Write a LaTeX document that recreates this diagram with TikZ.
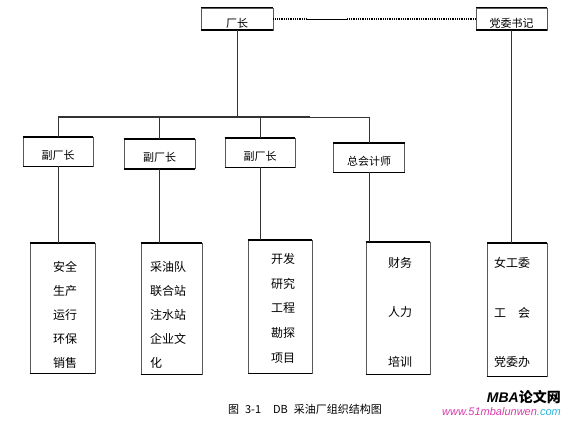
\documentclass[tikz,border=0pt]{standalone}
\usepackage{fontspec}
\newfontfamily\cjk{Noto Sans CJK SC}
\newfontfamily\wmfont{Liberation Sans}
\usetikzlibrary{positioning}
\usetikzlibrary{calc}
\definecolor{wmpink}{RGB}{214,60,170}
\definecolor{wmcyan}{RGB}{40,180,220}
\tikzset{
box/.style={
	rectangle,
	draw=black!65,
	line width=0.8pt,
	inner sep=0pt,
	fill=white,
	font=\cjk\fontsize{11}{12}\selectfont
},
headbox/.style={
	box,
	minimum width=72pt,
	text height=20pt,
	text depth=2pt
},
midbox/.style={
	box,
	minimum width=70pt,
	text height=22pt,
	text depth=7pt
},
listbox/.style={
	box,
	minimum width=63pt,
	minimum height=132pt
},
items/.style={
	inner sep=0pt,
	anchor=north,
	align=left,
	font=\cjk\fontsize{12}{24}\selectfont
},
edge/.style={
	line width=1.8pt,
	black
},
link/.style={
	draw=black!80,
	line width=0.8pt
}
}

\begin{document}
\begin{tikzpicture}[x=1pt, y=-1pt]
\useasboundingbox (0,0) rectangle (564,420);

% top level
\node (cz) [headbox] at (237,19) {厂长};
\node (dw) [headbox, minimum width=71pt] at (511.5,19) {党委书记};

% second level
\node (f1) [midbox] at (58,151.5) {副厂长};
\node (f2) [midbox, minimum width=71pt] at (159.5,154) {副厂长};
\node (f3) [midbox] at (260,152.5) {副厂长};
\node (zk) [midbox, minimum width=71pt] at (369,157.5) {总会计师};

% departments
\node (b1) [listbox, minimum width=65pt, minimum height=130pt] at (62.5,308) {};
\node (b2) [listbox, minimum width=61pt, minimum height=131pt] at (171.5,308.5) {};
\node (b3) [listbox, minimum width=64pt, minimum height=133pt] at (280,306.5) {};
\node (b4) [listbox, minimum width=64pt] at (398,308) {};
\node (b5) [listbox, minimum width=60pt, minimum height=133pt] at (517,309.5) {};

\node (t1) [items, xshift=2.5pt, yshift=-18.5pt] at (b1.north) {安全\\生产\\运行\\环保\\销售};
\node (t2) [items, xshift=-3.5pt, yshift=-18.5pt] at (b2.north) {采油队\\联合站\\注水站\\企业文\\化};
\node (t3) [items, xshift=3pt, yshift=-13.5pt, font=\cjk\fontsize{12}{24.75}\selectfont] at (b3.north) {开发\\研究\\工程\\勘探\\项目};
\node (t4) [items, xshift=2pt, yshift=-15.5pt, font=\cjk\fontsize{12}{49.5}\selectfont] at (b4.north) {财务\\人力\\培训};
\node (t5) [items, xshift=-5pt, yshift=-14.5pt, font=\cjk\fontsize{12}{49.5}\selectfont] at (b5.north) {女工委\\工　会\\党委办};

% thick top and bottom edges
\foreach \n in {cz,dw,f1,f2,f3,zk,b1,b2,b3,b4,b5} {
  \draw[edge] (\n.north west) -- (\n.north east);
  \draw[edge] (\n.south west) -- (\n.south east);
}

% 厂长 -- 党委书记
\coordinate (d1) at ($(cz.east)!0.167!(dw.west)$);
\coordinate (d2) at ($(cz.east)!0.365!(dw.west)$);
\draw[link, draw=black, densely dotted, line width=1.3pt] (cz.east) -- (d1);
\draw[link, draw=black] (d1) -- (d2);
\draw[link, draw=black, densely dotted, line width=1.3pt] (d2) -- (dw.west);

% bus
\coordinate (bus) at (0,117);
\coordinate (busmid) at (310,117);
\draw[link] (cz.south) -- (cz.south |- bus);
\draw[link, line width=1.3pt] (f1.north |- bus) -- (busmid);
\draw[link] (busmid) -- (zk.north |- bus);
\foreach \n in {f1,f2,f3,zk} {
  \draw[link] (\n.north |- bus) -- (\n.north);
}

% down to departments
\draw[link] (f1.south) -- (f1.south |- b1.north);
\draw[link] (f2.south) -- (f2.south |- b2.north);
\draw[link] (f3.south) -- (f3.south |- b3.north);
\draw[link] (zk.south) -- (zk.south |- b4.north);
\draw[link] (dw.south) -- (dw.south |- b5.north);

% caption
\node (cap) [font=\cjk\fontsize{11}{12}\selectfont] at (305,409)
  {图\hspace{6pt}3-1\hspace{12pt}DB\hspace{6pt}采油厂组织结构图};

% watermark
\node (wm) [anchor=east, inner sep=0pt, font=\wmfont\bfseries\itshape\fontsize{14}{16}\selectfont] at (561,397)
  {MBA{\cjk\bfseries 论文网}};
\node (url) [anchor=east, inner sep=0pt, font=\wmfont\itshape\fontsize{11}{12}\selectfont] at (561,412)
  {\textcolor{wmpink}{www.51mbalunwen}\textcolor{wmcyan}{.com}};

\end{tikzpicture}
\end{document}
